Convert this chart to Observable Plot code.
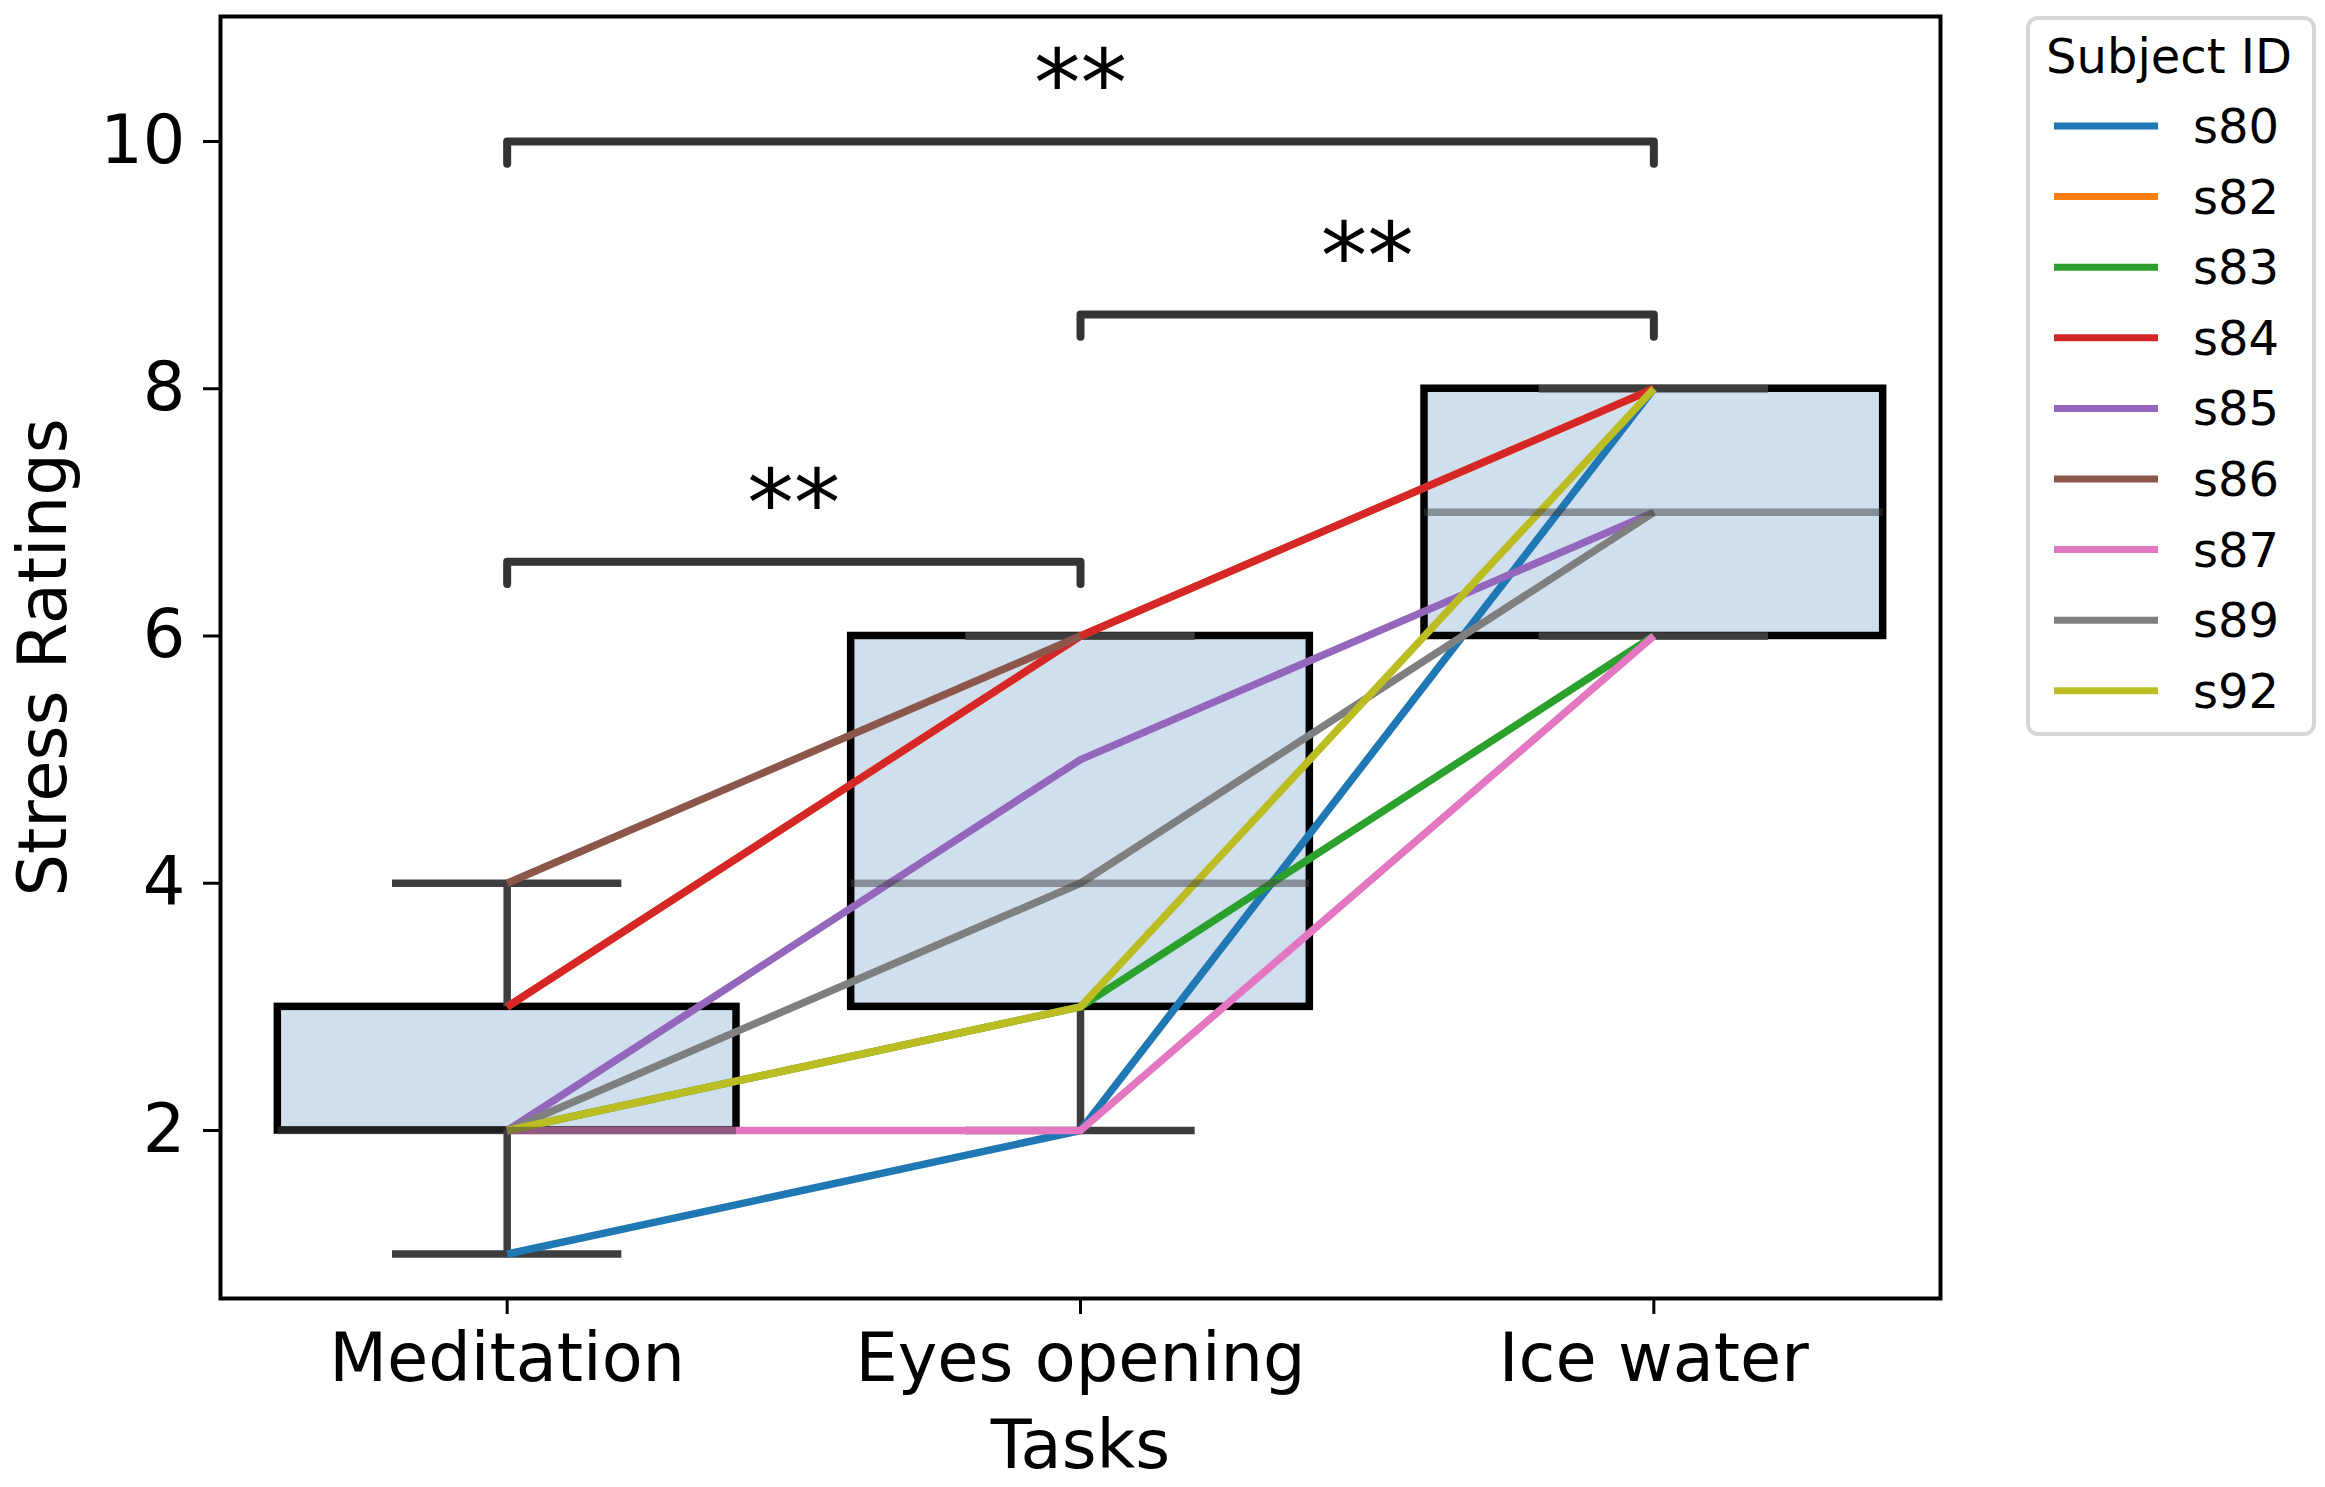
<!DOCTYPE html>
<html><head><meta charset="utf-8">
<script src="https://cdn.jsdelivr.net/npm/d3@7"></script>
<script src="https://cdn.jsdelivr.net/npm/@observablehq/plot@0.6"></script>
<style>
body{margin:0;background:#fff;}
#fig{position:relative;width:2325px;height:1487px;font-family:"DejaVu Sans",sans-serif;background:#fff;}
#fig svg{position:absolute;left:0;top:0;}
</style></head><body><div id="fig"></div><script>
// ---- data ----
const tasks = ["Meditation", "Eyes opening", "Ice water"];
const subjects = ["s80", "s82", "s83", "s84", "s85", "s86", "s87", "s89", "s92"];
const subjectColors = ["#1f77b4", "#ff7f0e", "#2ca02c", "#d62728", "#9467bd", "#8c564b", "#e377c2", "#7f7f7f", "#bcbd22"];
const meditation  = [1, 3, 2, 3, 2, 4, 2, 2, 2];
const eyesOpening = [2, 6, 3, 6, 5, 6, 2, 4, 3];
const iceWater    = [8, 8, 6, 8, 7, null, 6, 7, 8];
const boxQ1 = [2, 3, 6];
const boxMedian = [2, 4, 7];
const boxQ3 = [3, 6, 8];
const whiskerLow = [1, 2, 6];
const whiskerHigh = [4, 6, 8];
const yTicks = [2, 4, 6, 8, 10];
const bracketFrom = [0, 1, 0];
const bracketTo = [1, 2, 2];
const bracketHeights = [6.6, 8.6, 10.0];
const bracketLabels = ["**", "**", "**"];
const legendTitle = "Subject ID";

// ---- derived tables ----
const ratings = [meditation, eyesOpening, iceWater];
const long = [];
subjects.forEach((s, i) => tasks.forEach((t, j) => long.push({subject: s, t: j, v: ratings[j][i]})));
const boxes = tasks.map((t, i) => ({t: i, q1: boxQ1[i], med: boxMedian[i], q3: boxQ3[i], lo: whiskerLow[i], hi: whiskerHigh[i]}));
const brackets = [];
const bracketText = [];
bracketHeights.forEach((h, k) => {
  const a = bracketFrom[k], b = bracketTo[k];
  brackets.push({k, x: a, y: h - 0.18}, {k, x: a, y: h}, {k, x: b, y: h}, {k, x: b, y: h - 0.18});
  bracketText.push({x: (a + b) / 2, y: h + 0.45, label: bracketLabels[k]});
});

const W = 0.4, CAP = 0.2, LW = 7.5;
const chart = Plot.plot({
  width: 2325, height: 1487,
  marginLeft: 220, marginRight: 385, marginTop: 16, marginBottom: 189,
  style: {fontFamily: "DejaVu Sans", background: "white", color: "black"},
  x: {type: "linear", domain: [-0.5, 2.5]},
  y: {domain: [0.641, 11.011]},
  color: {domain: subjects, range: subjectColors},
  marks: [
    Plot.rect(boxes, {x1: d => d.t - W, x2: d => d.t + W, y1: "q1", y2: "q3", fill: "#cfdfee", stroke: "black", strokeWidth: LW}),
    Plot.ruleX(boxes, {x: "t", y1: "lo", y2: "q1", stroke: "#3d3d3d", strokeWidth: LW}),
    Plot.ruleX(boxes, {x: "t", y1: "q3", y2: "hi", stroke: "#3d3d3d", strokeWidth: LW}),
    Plot.ruleY(boxes, {y: "lo", x1: d => d.t - CAP, x2: d => d.t + CAP, stroke: "#3d3d3d", strokeWidth: LW}),
    Plot.ruleY(boxes, {y: "hi", x1: d => d.t - CAP, x2: d => d.t + CAP, stroke: "#3d3d3d", strokeWidth: LW}),
    Plot.line(long, {x: "t", y: "v", z: "subject", stroke: "subject", strokeWidth: LW, strokeLinejoin: "round", strokeLinecap: "butt"}),
    Plot.ruleY(boxes, {y: "med", x1: d => d.t - W, x2: d => d.t + W, stroke: "#404040", strokeOpacity: 0.5, strokeWidth: LW}),
    Plot.line(brackets, {x: "x", y: "y", z: "k", stroke: "#333333", strokeWidth: 8, strokeLinejoin: "round"}),
    Plot.text(bracketText, {x: "x", y: "y", text: "label", fontSize: 93, lineAnchor: "middle", fill: "black"}),
    Plot.frame({stroke: "black", strokeWidth: 4}),
    Plot.axisY({ticks: yTicks, tickSize: 17, tickPadding: 18, fontSize: 67, strokeWidth: 3,
      label: "Stress Ratings", labelAnchor: "center", labelOffset: 202, labelArrow: false}),
    Plot.axisX({ticks: [0, 1, 2], tickFormat: i => tasks[i], tickSize: 16, tickPadding: 19, fontSize: 67, strokeWidth: 3,
      label: "Tasks", labelAnchor: "center", labelOffset: 169, labelArrow: false})
  ]
});
const fig = document.getElementById("fig");
fig.appendChild(chart);

// ---- legend ----
const lg = d3.select(fig).append("svg")
  .attr("width", 2325).attr("height", 1487)
  .style("position", "absolute").style("left", "0px").style("top", "0px")
  .attr("font-family", "DejaVu Sans");
lg.append("rect").attr("x", 2028).attr("y", 18).attr("width", 286).attr("height", 716)
  .attr("rx", 10).attr("fill", "white").attr("stroke", "#d6d6d6").attr("stroke-width", 4);
lg.append("text").attr("x", 2169).attr("y", 56).attr("dominant-baseline", "central")
  .attr("text-anchor", "middle").attr("font-size", 48).attr("fill", "black").text(legendTitle);
subjects.forEach((s, i) => {
  const cy = 126 + i * 70.6;
  lg.append("line").attr("x1", 2054).attr("x2", 2158).attr("y1", cy).attr("y2", cy)
    .attr("stroke", subjectColors[i]).attr("stroke-width", 7);
  lg.append("text").attr("x", 2193).attr("y", cy).attr("dominant-baseline", "central")
    .attr("font-size", 48).attr("fill", "black").text(s);
});
</script></body></html>
